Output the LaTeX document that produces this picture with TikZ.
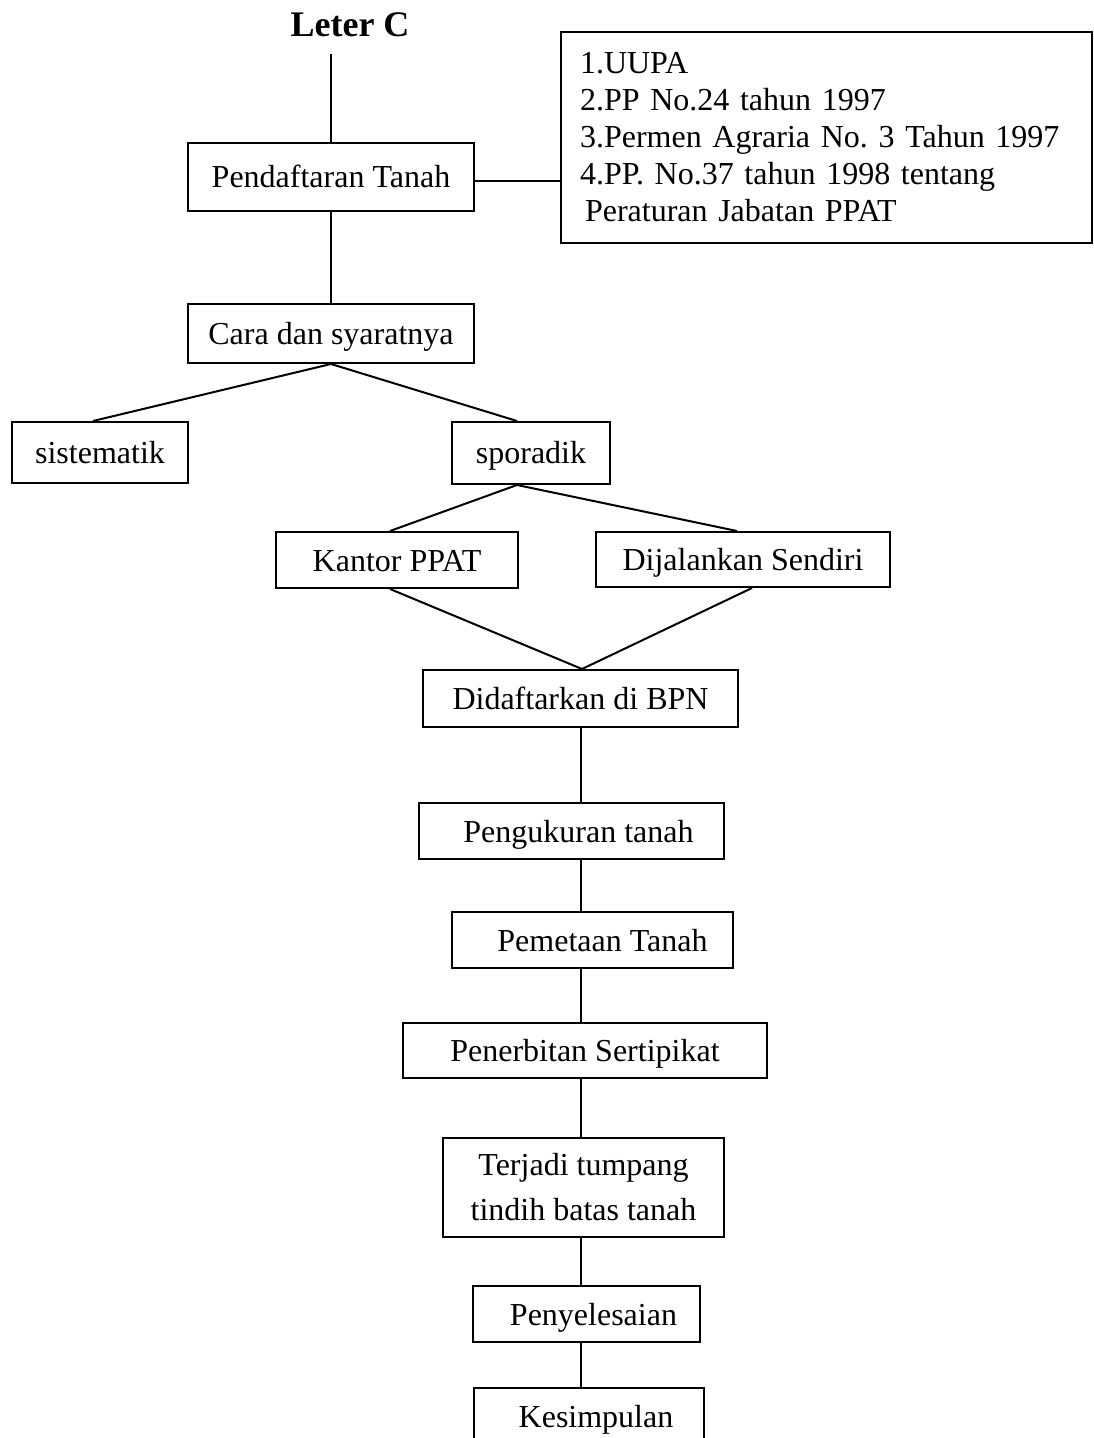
\documentclass[tikz,border=0pt]{standalone}
\usepackage{fontspec}
\setmainfont{Liberation Serif}
\usepackage{tikz}
\usetikzlibrary{positioning, calc}
\frenchspacing

\begin{document}
\begin{tikzpicture}[
  x=0.5pt, y=-0.5pt,
  blok/.style={draw, line width=1pt, inner sep=0pt, text height=12pt, text depth=1pt,
    font=\fontsize{16}{18.4}\selectfont},
  blokdua/.style={draw, line width=1pt, inner sep=0pt, align=center,
    font=\fontsize{16}{22.5}\selectfont},
  dasarbox/.style={draw, line width=1pt, inner xsep=9.5pt, inner ysep=0pt, align=left,
    text width=246.5pt, minimum height=105.5pt, font=\fontsize{16}{18.5}\selectfont},
  judulteks/.style={anchor=base, inner xsep=0pt, inner ysep=8pt,
    font=\fontsize{18}{20}\selectfont\bfseries}
  ]
  \useasboundingbox (0,0) rectangle (1093,1438);
  % atas
  \node[judulteks] (judul) at (350,37) {Leter C};
  \node[blok, minimum width=143pt, minimum height=34pt] (daftar) at (331,177) {Pendaftaran Tanah};
  \node[dasarbox] (dasar) at (826.5,137.5) {1.UUPA\\2.PP No.24 tahun 1997\\3.Permen Agraria No. 3 Tahun 1997\\4.PP. No.37 tahun 1998 tentang\\\hspace*{2.5pt}Peraturan Jabatan PPAT};
  \node[blok, minimum width=143pt, minimum height=29.5pt] (cara) at (331,333.5) {Cara dan syaratnya};
  \draw[line width=1pt] (daftar.north) -- (daftar.north |- judul.south);
  \draw[line width=1pt] ([yshift=-2pt]daftar.east) -- ([yshift=-2pt]daftar.east -| dasar.west);
  \draw[line width=1pt] (daftar.south) -- (cara.north);
  % cabang
  \node[blok, minimum width=88pt, minimum height=30.5pt] (sistematik) at (100,452.5) {sistematik};
  \node[blok, minimum width=79pt, minimum height=31pt] (sporadik) at (531,453) {sporadik};
  \node[blok, minimum width=121pt, minimum height=28pt] (kantor) at (397,560) {Kantor PPAT};
  \node[blok, minimum width=147pt, minimum height=27.5pt] (jalan) at (743,559.5) {Dijalankan Sendiri};
  \draw[line width=1pt] (cara.south) -- ([xshift=-3.5pt]sistematik.north);
  \draw[line width=1pt] (cara.south) -- ([xshift=-7pt]sporadik.north);
  \draw[line width=1pt] ([xshift=-7pt]sporadik.south) -- ([xshift=-3.5pt]kantor.north);
  \draw[line width=1pt] ([xshift=-7pt]sporadik.south) -- ([xshift=-3pt]jalan.north);
  % alur BPN
  \node[blok, minimum width=157.5pt, minimum height=28.5pt] (bpn) at (580.5,698.5) {Didaftarkan di BPN};
  \node[blok, minimum width=152.5pt, minimum height=28pt] (ukur) at (571.5,831) {\hspace*{7pt}Pengukuran tanah};
  \node[blok, minimum width=140.5pt, minimum height=28pt] (peta) at (592.5,940) {\hspace*{10pt}Pemetaan Tanah};
  \node[blok, minimum width=182pt, minimum height=27.5pt] (terbit) at (585,1050.5) {Penerbitan Sertipikat};
  \node[blokdua, minimum width=140.5pt, minimum height=49.5pt] (tumpang) at (583.5,1187.5) {Terjadi tumpang\\tindih batas tanah};
  \node[blok, minimum width=113.5pt, minimum height=28pt] (selesai) at (586.5,1314) {\hspace*{7pt}Penyelesaian};
  \node[blok, minimum width=115pt, minimum height=28pt] (simpul) at (589,1416) {\hspace*{7pt}Kesimpulan};
  \draw[line width=1pt] ([xshift=-3.5pt]kantor.south) -- ([xshift=0.75pt]bpn.north);
  \draw[line width=1pt] ([xshift=4.5pt]jalan.south) -- ([xshift=0.75pt]bpn.north);
  \foreach \a/\b in {bpn/ukur, ukur/peta, peta/terbit, terbit/tumpang, tumpang/selesai, selesai/simpul}
    \draw[line width=1pt] (\a.south -| bpn.south) -- (\b.north -| bpn.south);
\end{tikzpicture}
\end{document}
